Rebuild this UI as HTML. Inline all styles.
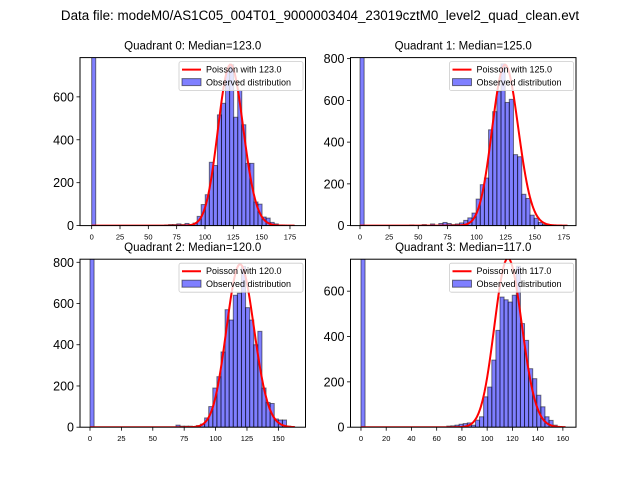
<!DOCTYPE html>
<html><head><meta charset="utf-8"><style>
body{margin:0;background:#fff;}
svg{display:block;font-family:"Liberation Sans","DejaVu Sans",sans-serif;}
</style></head><body>
<svg id="fig" width="640" height="480" viewBox="0 0 640 480" xmlns="http://www.w3.org/2000/svg">
<rect width="640" height="480" fill="#fff"/>
<text x="320" y="20" font-size="13.4" text-anchor="middle">Data file: modeM0/AS1C05_004T01_9000003404_23019cztM0_level2_quad_clean.evt</text>
</svg>
<script>
const medians = [123.0, 125.0, 120.0, 117.0];
const binWidths = [3.58, 3.56, 3.26, 3.24];
const curvePeaks = [750, 770, 790, 745];
const counts0 = [4800,0,0,0,0,0,0,0,0,0, 0,0,0,0,0,0,0,0,3,5, 5,8,5,10,5,12,43,98,144,295, 280,516,570,718,750,505,630,470,290,290, 110,100,40,35,15,8,3,2,1,1];
const counts1 = [4800,0,0,0,0,0,0,0,0,0, 0,0,3,0,0,5,0,8,0,10, 15,10,5,8,13,25,37,60,127,196, 228,459,546,642,775,590,605,340,330,150, 130,50,35,15,5,2,1,1,0,1];
const counts2 = [4800,0,0,0,0,0,0,0,0,0, 0,0,0,0,0,0,0,0,0,0, 0,10,5,5,5,3,8,15,45,100, 190,245,365,570,520,640,650,780,580,520, 400,465,190,120,115,40,35,35,5,2];
const counts3 = [4800,0,0,0,0,0,0,0,0,0, 0,0,0,0,0,0,0,0,0,0, 0,5,6,9,13,16,19,9,31,46, 134,177,296,427,574,562,552,582,710,457, 383,258,214,141,90,46,30,9,3,1];
const allCounts = [counts0, counts1, counts2, counts3];
const xTicks0 = [0,25,50,75,100,125,150,175];
const xTicks2 = [0,25,50,75,100,125,150];
const xTicks3 = [0,20,40,60,80,100,120,140,160];
const yTicks0 = [0,200,400,600];
const yTicks1 = [0,200,400,600,800];
const allXTicks = [xTicks0, xTicks0, xTicks2, xTicks3];
const allYTicks = [yTicks0, yTicks1, yTicks1, yTicks0];

const layout = [
 {x0:80, x1:305.5, y0:57.6, y1:225.6, xmin:-10.3, xmax:188.7, ymax:783},
 {x0:350.5, x1:576, y0:57.6, y1:225.6, xmin:-8.15, xmax:185.4, ymax:805},
 {x0:80, x1:305.5, y0:259.2, y1:427.2, xmin:-7.96, xmax:171.6, ymax:815},
 {x0:350.5, x1:576, y0:259.2, y1:427.2, xmin:-8.3, xmax:170.4, ymax:741}
];
const NS = "http://www.w3.org/2000/svg";
const fig = document.getElementById('fig');
function mk(tag, attrs, parent){
  const e = document.createElementNS(NS, tag);
  for (const k in attrs) e.setAttribute(k, attrs[k]);
  (parent||fig).appendChild(e);
  return e;
}
function lgamma(n){ let s=0; for(let i=2;i<=n;i++) s+=Math.log(i); return s; }
function pmf(k, lam){ return Math.exp(k*Math.log(lam) - lam - lgamma(k)); }

layout.forEach((L, p) => {
  const g = mk('g', {});
  
  
  const sx = v => L.x0 + (v - L.xmin) / (L.xmax - L.xmin) * (L.x1 - L.x0);
  const sy = v => L.y1 - v / L.ymax * (L.y1 - L.y0);
  const clipId = 'clip' + p;
  const cp = mk('clipPath', {id: clipId}, g);
  mk('rect', {x:L.x0, y:L.y0, width:L.x1-L.x0, height:L.y1-L.y0}, cp);
  const plot = mk('g', {'clip-path':'url(#' + clipId + ')'}, g);
  const bw = binWidths[p];
  allCounts[p].forEach((c, k) => {
    if (c <= 0) return;
    const xa = sx(k*bw), xb = sx((k+1)*bw);
    const r = mk('rect', {x:xa, y:sy(c), width:xb-xa, height:sy(0)-sy(c), fill:'#0000ff', 'fill-opacity':0.5, stroke:'#000', 'stroke-opacity':0.5, 'stroke-width':1}, plot);
    
    
  });
  const lam = medians[p];
  const scale = curvePeaks[p] / pmf(Math.round(lam), lam);
  const kmax = Math.ceil(50*bw);
  let d = '';
  for (let k = 0; k <= kmax; k++) {
    d += (k ? 'L' : 'M') + sx(k).toFixed(2) + ',' + sy(scale*pmf(k, lam)).toFixed(2);
  }
  const curve = mk('path', {d:d, fill:'none', stroke:'#ff0000', 'stroke-width':2}, plot);
  
  
  const frame = mk('rect', {x:L.x0, y:L.y0, width:L.x1-L.x0, height:L.y1-L.y0, fill:'none', stroke:'#000', 'stroke-width':1}, g);
  
  
  allXTicks[p].forEach(t => {
    const x = sx(t);
    mk('line', {x1:x, x2:x, y1:L.y1, y2:L.y1+3.5, stroke:'#000', 'stroke-width':0.8}, g);
    const tl = mk('text', {x:x, y:L.y1+14, 'font-size':7.5, 'text-anchor':'middle'}, g);
    tl.textContent = t;
    
    
  });
  allYTicks[p].forEach(t => {
    const y = sy(t);
    mk('line', {x1:L.x0-3.5, x2:L.x0, y1:y, y2:y, stroke:'#000', 'stroke-width':0.8}, g);
    const tl = mk('text', {x:L.x0-6, y:y+4.5, 'font-size':12.5, 'text-anchor':'end'}, g);
    tl.textContent = t;
    
    
  });
  const title = mk('text', {x:(L.x0+L.x1)/2, y:L.y0-8, 'font-size':11.5, 'text-anchor':'middle'}, g);
  title.textContent = 'Quadrant ' + p + ': Median=' + lam.toFixed(1);
  
  
  const lg = mk('g', {}, g);
  
  
  const lw = 124, lh = 29, lx = L.x1 - 2.5 - lw, ly = L.y0 + 4;
  mk('rect', {x:lx, y:ly, width:lw, height:lh, rx:2, fill:'#fff', 'fill-opacity':0.8, stroke:'#ccc', 'stroke-width':0.8}, lg);
  mk('line', {x1:lx+3, x2:lx+22, y1:ly+8, y2:ly+8, stroke:'#ff0000', 'stroke-width':2}, lg);
  const t1 = mk('text', {x:lx+27, y:ly+11, 'font-size':9}, lg);
  t1.textContent = 'Poisson with ' + lam.toFixed(1);
  
  
  mk('rect', {x:lx+3, y:ly+17, width:19, height:7, fill:'#0000ff', 'fill-opacity':0.5, stroke:'#000', 'stroke-opacity':0.5, 'stroke-width':1}, lg);
  const t2 = mk('text', {x:lx+27, y:ly+24, 'font-size':9}, lg);
  t2.textContent = 'Observed distribution';
  
  
});
</script>
</body></html>
